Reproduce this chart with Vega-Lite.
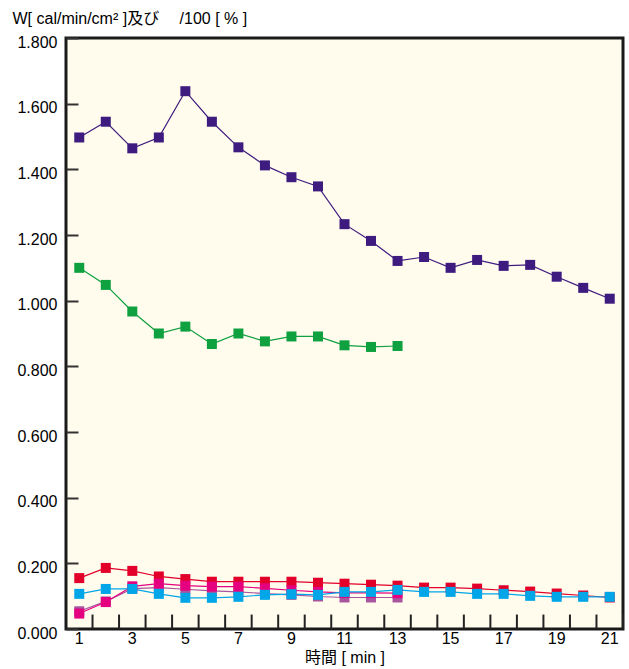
{
  "$schema": "https://vega.github.io/schema/vega-lite/v6.json",
  "width": 557,
  "height": 591,
  "autosize": {"type": "none"},
  "padding": {"left": 66, "top": 38, "right": 6, "bottom": 40},
  "background": "#ffffff",
  "config": {
    "view": {"fill": "#FFFCEE", "stroke": "#1a1a1a", "strokeWidth": 3},
    "font": "Liberation Sans, Noto Sans CJK JP",
    "axis": {"labelFont": "Liberation Sans", "titleFont": "Liberation Sans, Noto Sans CJK JP", "labelColor": "#000000", "titleColor": "#000000", "titleFontWeight": "normal", "domain": false}
  },
  "data": {
    "values": [
      {"t":1,"s":"A","v":1.497},{"t":2,"s":"A","v":1.545},{"t":3,"s":"A","v":1.464},{"t":4,"s":"A","v":1.497},{"t":5,"s":"A","v":1.638},{"t":6,"s":"A","v":1.545},{"t":7,"s":"A","v":1.467},{"t":8,"s":"A","v":1.412},{"t":9,"s":"A","v":1.376},{"t":10,"s":"A","v":1.348},{"t":11,"s":"A","v":1.233},{"t":12,"s":"A","v":1.182},{"t":13,"s":"A","v":1.121},{"t":14,"s":"A","v":1.133},{"t":15,"s":"A","v":1.100},{"t":16,"s":"A","v":1.124},{"t":17,"s":"A","v":1.106},{"t":18,"s":"A","v":1.109},{"t":19,"s":"A","v":1.073},{"t":20,"s":"A","v":1.039},{"t":21,"s":"A","v":1.006},
      {"t":1,"s":"B","v":1.100},{"t":2,"s":"B","v":1.048},{"t":3,"s":"B","v":0.967},{"t":4,"s":"B","v":0.900},{"t":5,"s":"B","v":0.921},{"t":6,"s":"B","v":0.868},{"t":7,"s":"B","v":0.900},{"t":8,"s":"B","v":0.876},{"t":9,"s":"B","v":0.891},{"t":10,"s":"B","v":0.891},{"t":11,"s":"B","v":0.864},{"t":12,"s":"B","v":0.859},{"t":13,"s":"B","v":0.862},
      {"t":1,"s":"C","v":0.155},{"t":2,"s":"C","v":0.186},{"t":3,"s":"C","v":0.177},{"t":4,"s":"C","v":0.160},{"t":5,"s":"C","v":0.152},{"t":6,"s":"C","v":0.144},{"t":7,"s":"C","v":0.144},{"t":8,"s":"C","v":0.144},{"t":9,"s":"C","v":0.144},{"t":10,"s":"C","v":0.141},{"t":11,"s":"C","v":0.138},{"t":12,"s":"C","v":0.135},{"t":13,"s":"C","v":0.132},{"t":14,"s":"C","v":0.126},{"t":15,"s":"C","v":0.126},{"t":16,"s":"C","v":0.123},{"t":17,"s":"C","v":0.118},{"t":18,"s":"C","v":0.114},{"t":19,"s":"C","v":0.108},{"t":20,"s":"C","v":0.102},{"t":21,"s":"C","v":0.096},
      {"t":1,"s":"D","v":0.054},{"t":2,"s":"D","v":0.084},{"t":3,"s":"D","v":0.123},{"t":4,"s":"D","v":0.126},{"t":5,"s":"D","v":0.121},{"t":6,"s":"D","v":0.116},{"t":7,"s":"D","v":0.113},{"t":8,"s":"D","v":0.108},{"t":9,"s":"D","v":0.104},{"t":10,"s":"D","v":0.099},{"t":11,"s":"D","v":0.096},{"t":12,"s":"D","v":0.096},{"t":13,"s":"D","v":0.096},
      {"t":1,"s":"E","v":0.047},{"t":2,"s":"E","v":0.082},{"t":3,"s":"E","v":0.130},{"t":4,"s":"E","v":0.138},{"t":5,"s":"E","v":0.132},{"t":6,"s":"E","v":0.129},{"t":7,"s":"E","v":0.129},{"t":8,"s":"E","v":0.124},{"t":9,"s":"E","v":0.118},{"t":10,"s":"E","v":0.113},{"t":11,"s":"E","v":0.110},{"t":12,"s":"E","v":0.110},{"t":13,"s":"E","v":0.109},
      {"t":1,"s":"F","v":0.107},{"t":2,"s":"F","v":0.122},{"t":3,"s":"F","v":0.122},{"t":4,"s":"F","v":0.107},{"t":5,"s":"F","v":0.095},{"t":6,"s":"F","v":0.095},{"t":7,"s":"F","v":0.098},{"t":8,"s":"F","v":0.104},{"t":9,"s":"F","v":0.106},{"t":10,"s":"F","v":0.104},{"t":11,"s":"F","v":0.113},{"t":12,"s":"F","v":0.113},{"t":13,"s":"F","v":0.119},{"t":14,"s":"F","v":0.113},{"t":15,"s":"F","v":0.113},{"t":16,"s":"F","v":0.107},{"t":17,"s":"F","v":0.107},{"t":18,"s":"F","v":0.101},{"t":19,"s":"F","v":0.098},{"t":20,"s":"F","v":0.098},{"t":21,"s":"F","v":0.098}
    ]
  },
  "encoding": {
    "x": {
      "field": "t", "type": "ordinal",
      "scale": {"type": "band", "paddingInner": 0, "paddingOuter": 0},
      "axis": {
        "labelAngle": 0, "labelFontSize": 16,
        "labelExpr": "datum.value % 2 == 1 ? datum.label : ''",
        "ticks": false, "grid": false,
        "labelPadding": 1,
        "title": "時間 [ min ]", "titleFontSize": 16, "titlePadding": 3
      }
    },
    "y": {
      "field": "v", "type": "quantitative",
      "scale": {"domain": [0, 1.8], "nice": false},
      "axis": {
        "values": [0, 0.2, 0.4, 0.6, 0.8, 1.0, 1.2, 1.4, 1.6, 1.8],
        "format": ".3f", "labelFontSize": 16, "labelOffset": 4,
        "ticks": false,
        "grid": true, "gridDash": [12, 2000], "gridColor": "#333333", "gridWidth": 2, "gridOpacity": 1,
        "labelPadding": 9,
        "title": "W[ cal/min/cm² ]及び　 /100 [ % ]",
        "titleAngle": 0, "titleFontSize": 16, "titleAlign": "left", "titleBaseline": "alphabetic",
        "titleX": -54, "titleY": -15
      }
    },
    "color": {
      "field": "s", "type": "nominal", "legend": null,
      "scale": {"domain": ["A","B","C","D","E","F"], "range": ["#3E1B7E","#0FA040","#E2002A","#A8559E","#E4007F","#00A6E8"]}
    }
  },
  "layer": [
    {
      "transform": [{"filter": "datum.s == 'A'"}],
      "mark": {"type": "rule", "color": "#222222", "strokeWidth": 2, "xOffset": 13.26},
      "encoding": {
        "x": {"field": "t", "type": "ordinal"},
        "y": {"datum": 0},
        "y2": {"datum": 0.044},
        "color": {"value": "#222222"}
      }
    },
    {"mark": {"type": "line", "strokeWidth": 1.2}, "encoding": {"detail": {"field": "s"}}},
    {"mark": {"type": "point", "shape": "square", "filled": true, "size": 100, "opacity": 1}}
  ]
}
